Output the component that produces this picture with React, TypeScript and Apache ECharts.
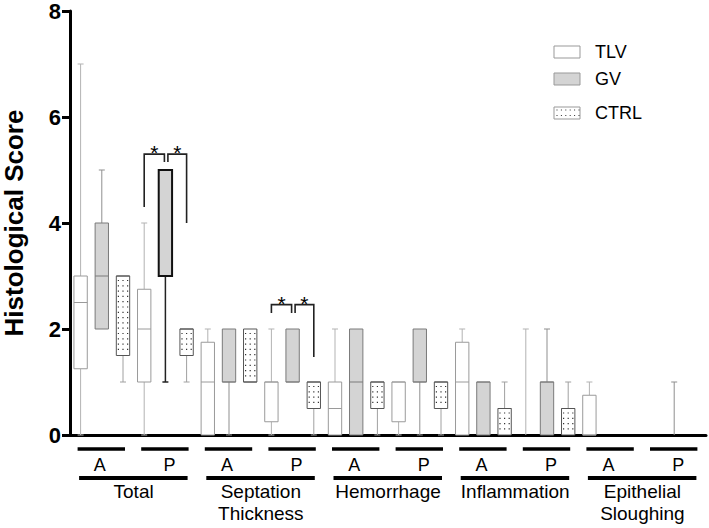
import React, { useEffect, useRef } from 'react';
import * as echarts from 'echarts';

// ---------- data ----------
const categories = ['Total', 'Septation\nThickness', 'Hemorrhage', 'Inflammation', 'Epithelial\nSloughing'];
const sites = ['A', 'P'];
const seriesNames = ['TLV', 'GV', 'CTRL'];
const yTicks = [0, 2, 4, 6, 8];

// [min, q1, median, q3, max] for each category x site (Total A, Total P, Septation A, ...)
const tlvStats = [
  [0, 1.25, 2.5, 3, 7],
  [0, 1, 2, 2.75, 4],
  [0, 0, 1, 1.75, 2],
  [0, 0.25, 1, 1, 2],
  [0, 0, 0.5, 1, 2],
  [0, 0.25, 1, 1, 1],
  [0, 0, 1, 1.75, 2],
  [0, 0, 0, 0, 2],
  [0, 0, 0, 0.75, 1],
  [0, 0, 0, 0, 0],
];
const gvStats = [
  [2, 2, 3, 4, 5],
  [1, 3, 5, 5, 5],
  [0, 1, 1, 2, 2],
  [1, 1, 1, 2, 2],
  [0, 0, 1, 2, 2],
  [0, 1, 1, 2, 2],
  [0, 0, 1, 1, 1],
  [0, 0, 1, 1, 2],
  [0, 0, 0, 0, 0],
  [0, 0, 0, 0, 1],
];
const ctrlStats = [
  [1, 1.5, 3, 3, 3],
  [1, 1.5, 2, 2, 2],
  [1, 1, 1, 2, 2],
  [0, 0.5, 1, 1, 1],
  [0, 0.5, 1, 1, 1],
  [0, 0.5, 1, 1, 1],
  [0, 0, 0.5, 0.5, 1],
  [0, 0, 0.5, 0.5, 1],
  [0, 0, 0, 0, 0],
  [0, 0, 0, 0, 0],
];
// significance brackets: [slotFrom, bracketTop, slotTo, legEndFrom, legEndTo]
const brackets = [
  [3, 5.3, 4, 4.3, 5.15],
  [4, 5.3, 5, 5.15, 4.0],
  [9, 2.46, 10, 2.3, 2.3],
  [10, 2.46, 11, 2.3, 1.47],
];

// ---------- derived ----------
const allStats = [tlvStats, gvStats, ctrlStats];
const slotNames: string[] = [];
categories.forEach((c) =>
  sites.forEach((s) => seriesNames.forEach((n) => slotNames.push(`${c.replace('\n', ' ')} ${s} ${n}`)))
);

const FONT = '"Liberation Sans", Arial, sans-serif';
const seriesStyle = [
  { fill: '#ffffff', stroke: '#9a9a9a', whisker: '#b3b3b3', dots: false },
  { fill: '#d4d4d4', stroke: '#7a7a7a', whisker: '#8f8f8f', dots: false },
  { fill: '#ffffff', stroke: '#555555', whisker: '#a0a0a0', dots: true },
];
const boldSlot = 4; // emphasised GV box in Total P

function boxRenderer(sIdx: number) {
  const st = seriesStyle[sIdx];
  return (params: any, api: any) => {
    const slot = api.value(0);
    const mn = api.value(1), q1 = api.value(2), md = api.value(3), q3 = api.value(4), mx = api.value(5);
    const cx = api.coord([slot, 0])[0];
    const Y = (v: number) => api.coord([slot, v])[1];
    const bw = api.size([1, 0])[0] * 0.63;
    const half = bw / 2;
    const cap = 3;
    const bold = slot === boldSlot;
    const stroke = bold ? '#111' : st.stroke;
    const wcol = bold ? '#222' : st.whisker;
    const wlw = bold ? 1.5 : 1;
    const children: any[] = [];
    const line = (x1: number, y1: number, x2: number, y2: number, color: string, lw: number) =>
      children.push({ type: 'line', shape: { x1, y1, x2, y2 }, style: { stroke: color, lineWidth: lw } });
    if (mn < q1) {
      line(cx, Y(mn), cx, Y(q1), wcol, wlw);
      line(cx - cap, Y(mn), cx + cap, Y(mn), wcol, wlw);
    }
    if (mx > q3) {
      line(cx, Y(q3), cx, Y(mx), wcol, wlw);
      line(cx - cap, Y(mx), cx + cap, Y(mx), wcol, wlw);
    }
    if (q3 > q1) {
      const top = Y(q3), bot = Y(q1);
      children.push({
        type: 'rect',
        shape: { x: cx - half, y: top, width: bw, height: bot - top },
        style: { fill: st.fill, stroke, lineWidth: bold ? 2 : 1 },
      });
      if (st.dots) {
        for (let yy = top + 4.5; yy < bot - 1.5; yy += 5.3) {
          for (const dx of [-4.6, 0, 4.6]) {
            children.push({ type: 'rect', shape: { x: cx + dx - 0.6, y: yy - 0.6, width: 1.2, height: 1.2 }, style: { fill: '#333' } });
          }
        }
      }
      line(cx - half, Y(md), cx + half, Y(md), stroke, bold ? 2 : 1);
    }
    return { type: 'group', children };
  };
}

function siteRenderer(params: any, api: any) {
  const a = api.coord([api.value(0), 0]);
  const b = api.coord([api.value(2), 0]);
  const idx = api.value(3);
  const base = a[1];
  return {
    type: 'group',
    children: [
      { type: 'line', shape: { x1: a[0] - 3, y1: base + 14, x2: b[0] + 2, y2: base + 14 }, style: { stroke: '#000', lineWidth: 3.5 } },
      {
        type: 'text',
        x: (a[0] + b[0]) / 2 + (idx === 0 ? -2 : 4),
        y: base + 30,
        style: { text: sites[idx], align: 'center', verticalAlign: 'middle', fontSize: 18, fontFamily: FONT, fill: '#000' },
      },
    ],
  };
}

function catRenderer(params: any, api: any) {
  const a = api.coord([api.value(0), 0]);
  const b = api.coord([api.value(2), 0]);
  const idx = api.value(3);
  const base = a[1];
  return {
    type: 'group',
    children: [
      { type: 'line', shape: { x1: a[0] - 1.5, y1: base + 43, x2: b[0] + 1, y2: base + 43 }, style: { stroke: '#000', lineWidth: 4 } },
      {
        type: 'text',
        x: (a[0] + b[0]) / 2,
        y: base + 45,
        style: { text: categories[idx], align: 'center', verticalAlign: 'top', fontSize: 19, lineHeight: 22, fontFamily: FONT, fill: '#000' },
      },
    ],
  };
}

function bracketRenderer(params: any, api: any) {
  const a = api.value(0), top = api.value(1), b = api.value(2), ya = api.value(3), yb = api.value(4);
  let xa = api.coord([a, 0])[0];
  let xb = api.coord([b, 0])[0];
  if (a % 3 === 1) xa += 2.5;
  if (b % 3 === 1) xb -= 1;
  const yt = api.coord([a, top])[1];
  const y1 = api.coord([a, ya])[1];
  const y2 = api.coord([b, yb])[1];
  return {
    type: 'group',
    children: [
      { type: 'polyline', shape: { points: [[xa, y1], [xa, yt], [xb, yt], [xb, y2]] }, style: { stroke: '#222', lineWidth: 1.6, fill: 'none' } },
      {
        type: 'text',
        x: (xa + xb) / 2,
        y: yt - 1.5,
        style: { text: '*', align: 'center', verticalAlign: 'middle', fontSize: 21, fontFamily: FONT, fill: '#000' },
      },
    ],
  };
}

const boxSeries = allStats.map((stats, sIdx) => ({
  type: 'custom',
  name: seriesNames[sIdx],
  silent: true,
  clip: false,
  renderItem: boxRenderer(sIdx),
  encode: { x: 0, y: [1, 2, 3, 4, 5] },
  data: stats.map((s, g) => [g * 3 + sIdx, ...s]),
}));

const siteData: number[][] = [];
categories.forEach((_, c) => sites.forEach((__, s) => siteData.push([c * 6 + s * 3, 0, c * 6 + s * 3 + 2, s])));
const catData = categories.map((_, c) => [c * 6, 0, c * 6 + 5, c]);

// legend graphic
const legendY = [46, 73, 107];
const legendEls: any[] = [];
seriesNames.forEach((n, i) => {
  legendEls.push({
    type: 'rect',
    shape: { x: 554, y: legendY[i], width: 26, height: 12 },
    style: { fill: seriesStyle[i].fill, stroke: '#999', lineWidth: 1 },
  });
  legendEls.push({
    type: 'text',
    x: 595,
    y: legendY[i] + 6,
    style: { text: n, verticalAlign: 'middle', fontSize: 18, fontFamily: FONT, fill: '#000' },
  });
});
for (const yy of [110, 115.5]) {
  for (let xx = 557; xx < 579; xx += 4.4) {
    legendEls.push({ type: 'rect', shape: { x: xx - 0.5, y: yy - 0.5, width: 1, height: 1 }, style: { fill: '#333' } });
  }
}

const option: any = {
  animation: false,
  grid: { left: 70, right: 3, top: 11, bottom: 93, containLabel: false, outerBoundsMode: 'none' },
  xAxis: {
    type: 'category',
    data: slotNames,
    boundaryGap: true,
    axisLine: { lineStyle: { color: '#000', width: 3 } },
    axisTick: { alignWithLabel: true, length: 6, lineStyle: { color: '#000', width: 3 } },
    axisLabel: { show: false },
    splitLine: { show: false },
  },
  yAxis: {
    type: 'value',
    min: yTicks[0],
    max: yTicks[yTicks.length - 1],
    interval: 2,
    name: 'Histological Score',
    nameLocation: 'middle',
    nameGap: 43,
    nameTextStyle: { fontSize: 26, fontWeight: 'bold', fontFamily: FONT, color: '#000' },
    axisLine: { show: true, lineStyle: { color: '#000', width: 3 } },
    axisTick: { show: true, length: 8, lineStyle: { color: '#000', width: 3 } },
    axisLabel: { fontSize: 22, fontWeight: 'bold', fontFamily: FONT, color: '#000', margin: 9 },
    splitLine: { show: false },
  },
  graphic: [{ type: 'group', children: legendEls }],
  series: [
    ...boxSeries,
    { type: 'custom', silent: true, clip: false, renderItem: bracketRenderer, encode: { x: [0, 2], y: [1, 3, 4] }, data: brackets },
    { type: 'custom', silent: true, clip: false, renderItem: siteRenderer, encode: { x: [0, 2], y: 1 }, data: siteData },
    { type: 'custom', silent: true, clip: false, renderItem: catRenderer, encode: { x: [0, 2], y: 1 }, data: catData },
  ],
};

export default function App() {
  const ref = useRef<HTMLDivElement>(null);
  useEffect(() => {
    const chart = echarts.init(ref.current!, null, { renderer: 'svg' });
    chart.setOption(option);
    return () => chart.dispose();
  }, []);
  return <div ref={ref} style={{ position: 'fixed', left: 0, top: 0, width: 709, height: 528, background: '#fff' }} />;
}
